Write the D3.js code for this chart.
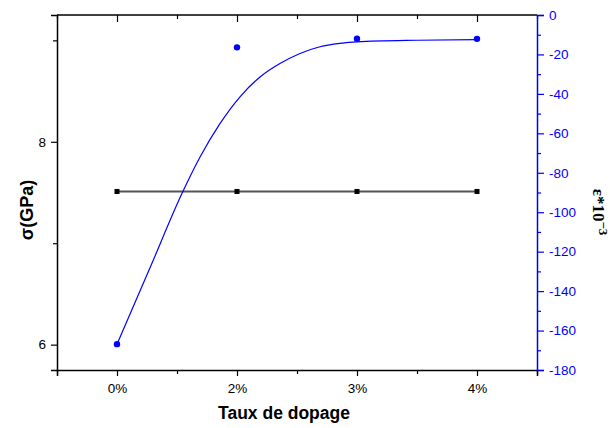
<!DOCTYPE html>
<html>
<head>
<meta charset="utf-8">
<script src="https://cdn.jsdelivr.net/npm/d3@7"></script>
<style>
  html, body { margin: 0; padding: 0; background: #fff; }
  svg { display: block; }
</style>
</head>
<body>
<svg id="chart" width="610" height="428"></svg>
<script>
// ---- data ----
const categories = ["0%", "2%", "3%", "4%"];
const sigmaValues = [7.51, 7.51, 7.51, 7.51];          // σ (GPa), left axis
const epsValues = [-166.9, -16.4, -12.0, -12.1];        // ε*10^-3, right axis
// fitted curve (x in category index units, ε)
const fitX = [0, 0.275, 0.542, 0.692, 0.858, 1.025, 1.192, 1.358, 1.525, 1.692, 1.858, 2.0, 2.5, 3.0];
const fitY = [-166.9, -128.2, -90.4, -72.0, -55.1, -41.5, -31.4, -24.6, -19.5, -16.1, -14.4, -13.6, -12.8, -12.5];
const leftTicks = [6, 8];
const leftMinor = [7, 9];
const rightTicks = [0, -20, -40, -60, -80, -100, -120, -140, -160, -180];
const rightMinor = [-10, -30, -50, -70, -90, -110, -130, -150, -170];
const xMinor = [-0.5, 0.5, 1.5, 2.5, 3.5];

// ---- layout ----
const L = 57, R = 537, T = 15, B = 370;
const blue = "#0000ff";
const svg = d3.select("#chart");

const x = d3.scaleLinear().domain([-0.5, 3.5]).range([L, R]);
const yL = d3.scaleLinear().domain([5.75, 9.25]).range([B, T]);
const yR = d3.scaleLinear().domain([-180, 0]).range([B, T]);
const idx = categories.map((c, i) => i);

const font = "'Liberation Sans', Arial, sans-serif";

// top frame line
svg.append("line").attr("x1", L).attr("x2", R).attr("y1", T).attr("y2", T)
  .attr("stroke", "#000").attr("stroke-width", 1.5);

// top ticks (inward)
const gTop = svg.append("g").attr("transform", `translate(0,${T})`);
gTop.call(d3.axisBottom(x).tickValues(idx).tickSize(7).tickFormat(""));
gTop.append("g").call(d3.axisBottom(x).tickValues(xMinor).tickSize(4).tickFormat(""));
gTop.selectAll(".domain").remove();
gTop.selectAll("line").attr("stroke", "#000").attr("stroke-width", 1.2);

// bottom axis
const gB = svg.append("g").attr("transform", `translate(0,${B})`);
gB.call(d3.axisBottom(x).tickValues(idx).tickSize(6).tickPadding(7)
  .tickFormat(i => categories[i]));
gB.append("g").call(d3.axisBottom(x).tickValues(xMinor).tickSize(4).tickFormat(""))
  .select(".domain").remove();
gB.select(".domain").attr("stroke", "#000").attr("stroke-width", 1.5);
gB.selectAll("line").attr("stroke", "#000").attr("stroke-width", 1.2);
gB.selectAll("text").attr("font-family", font).attr("font-size", 13.5).attr("fill", "#000");

// left axis
const gL = svg.append("g").attr("transform", `translate(${L},0)`);
gL.call(d3.axisLeft(yL).tickValues(leftTicks).tickSize(6).tickPadding(5).tickFormat(d3.format("d")));
gL.append("g").call(d3.axisLeft(yL).tickValues(leftMinor).tickSize(4).tickFormat(""))
  .select(".domain").remove();
gL.select(".domain").attr("stroke", "#000").attr("stroke-width", 1.5);
gL.selectAll("line").attr("stroke", "#000").attr("stroke-width", 1.2);
gL.selectAll("text").attr("font-family", font).attr("font-size", 13.5).attr("fill", "#000");

// right axis (blue)
const gR = svg.append("g").attr("transform", `translate(${R},0)`);
gR.call(d3.axisRight(yR).tickValues(rightTicks).tickSize(7).tickPadding(5)
  .tickFormat(d => d < 0 ? "-" + Math.abs(d) : String(d)));
gR.append("g").call(d3.axisRight(yR).tickValues(rightMinor).tickSize(4).tickFormat(""))
  .select(".domain").remove();
gR.select(".domain").attr("stroke", blue).attr("stroke-width", 1.5);
gR.selectAll("line").attr("stroke", blue).attr("stroke-width", 1.2);
gR.selectAll("text").attr("font-family", font).attr("font-size", 13.5).attr("fill", blue);

// σ line and squares
svg.append("path")
  .datum(idx)
  .attr("fill", "none").attr("stroke", "#555").attr("stroke-width", 1.8)
  .attr("d", d3.line().x(i => x(i)).y(i => yL(sigmaValues[i])));
svg.selectAll("rect.sq").data(idx).enter().append("rect")
  .attr("class", "sq")
  .attr("x", i => x(i) - 2.5).attr("y", i => yL(sigmaValues[i]) - 2.5)
  .attr("width", 5).attr("height", 5).attr("fill", "#000");

// fitted curve
svg.append("path")
  .datum(fitX.map((v, i) => [v, fitY[i]]))
  .attr("fill", "none").attr("stroke", blue).attr("stroke-width", 1.2)
  .attr("d", d3.line().x(d => x(d[0])).y(d => yR(d[1])).curve(d3.curveMonotoneX));

// ε dots
svg.selectAll("circle.eps").data(idx).enter().append("circle")
  .attr("class", "eps")
  .attr("cx", i => x(i)).attr("cy", i => yR(epsValues[i]))
  .attr("r", 3.2).attr("fill", blue);

// axis titles
svg.append("text")
  .attr("x", (L + R) / 2 - 13).attr("y", 419)
  .attr("text-anchor", "middle")
  .attr("font-family", font).attr("font-weight", "bold").attr("font-size", 17.5)
  .text("Taux de dopage");

svg.append("text")
  .attr("transform", `translate(33,210) rotate(-90)`)
  .attr("text-anchor", "middle")
  .attr("font-family", font).attr("font-weight", "bold").attr("font-size", 18)
  .text("σ(GPa)");

const eps = svg.append("text")
  .attr("transform", `translate(593,212) rotate(90)`)
  .attr("text-anchor", "middle")
  .attr("font-family", "'Liberation Serif', 'Times New Roman', serif")
  .attr("font-weight", "bold").attr("font-size", 17);
eps.append("tspan").text("ε*10");
eps.append("tspan").attr("dy", -6).attr("font-size", 13).text("−3");
</script>
</body>
</html>
